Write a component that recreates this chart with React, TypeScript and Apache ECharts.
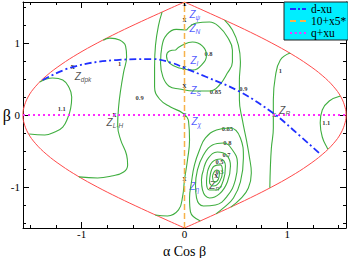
import React, { useEffect, useRef } from "react";
import * as echarts from "echarts";

// ---------- axis ----------
const AXIS_MIN = -1.5708;
const AXIS_MAX = 1.5708;
const majorTicks = [-1, 0, 1];
const minorTicks = [-1.5, -1.25, -0.75, -0.5, -0.25, 0.25, 0.5, 0.75, 1.25, 1.5];

// ---------- red boundary ----------
const boundaryBeta = [1.5708, 1.45, 1.3, 1.15, 1.0, 0.85, 0.7, 0.55, 0.4, 0.25, 0.1, 0, -0.1, -0.25, -0.4, -0.55, -0.7, -0.85, -1.0, -1.15, -1.3, -1.45, -1.5708];
const boundaryX = [0, 0.189, 0.42, 0.642, 0.849, 1.037, 1.201, 1.339, 1.447, 1.522, 1.563, 1.571, 1.563, 1.522, 1.447, 1.339, 1.201, 1.037, 0.849, 0.642, 0.42, 0.189, 0];

// ---------- legend lines ----------
const curveDxu = [[-1.379, 0.486], [-1.087, 0.667], [-0.66, 0.764], [-0.311, 0.778], [-0.117, 0.722], [0, 0.653], [0.214, 0.528], [0.544, 0.319], [0.874, 0.014], [1.058, -0.208], [1.32, -0.542]];
const line10x5 = [[0, -1.5708], [0, 1.5708]];
const lineQxu = [[-1.5708, 0], [1.5708, 0]];

// ---------- green contours ----------
const contour11Left = [[-1.408, 0.458], [-1.282, 0.514], [-1.184, 0.486], [-1.126, 0.389], [-1.097, 0.25], [-1.107, 0.097], [-1.136, -0.042], [-1.184, -0.167], [-1.262, -0.236], [-1.359, -0.278], [-1.51, -0.264]];
const contour1Left = [[-0.79, 1.04], [-0.728, 1.069], [-0.631, 1.042], [-0.573, 0.958], [-0.563, 0.806], [-0.592, 0.597], [-0.621, 0.347], [-0.641, 0.111], [-0.65, -0.139], [-0.621, -0.347], [-0.563, -0.556], [-0.553, -0.694], [-0.592, -0.792], [-0.709, -0.847], [-0.845, -0.875], [-1.027, -0.86]];
const contour1Right = [[1.028, 0.861], [0.932, 0.764], [0.883, 0.528], [0.864, 0.208], [0.864, -0.181], [0.845, -0.458], [0.835, -0.736], [0.83, -1.01]];
const contour11Right = [[1.516, 0.264], [1.408, 0.194], [1.34, 0.069], [1.32, -0.111], [1.34, -0.306], [1.388, -0.458], [1.4, -0.47]];
const contour09Right = [[0.39, 1.32], [0.466, 1.181], [0.524, 0.972], [0.544, 0.736], [0.534, 0.486], [0.534, 0.208], [0.563, -0.069], [0.602, -0.347], [0.631, -0.583], [0.65, -0.806], [0.621, -1.014], [0.544, -1.167], [0.45, -1.28]];
const contour09Left = [[-0.218, 1.431], [-0.252, 1.25], [-0.282, 0.972], [-0.291, 0.667], [-0.291, 0.389], [-0.243, 0.222], [-0.136, 0.111], [-0.019, 0.028], [0.039, -0.083], [0.049, -0.347], [0.029, -0.625], [0, -0.903], [-0.019, -1.139], [-0.058, -1.319], [-0.165, -1.403], [-0.285, -1.39]];
const contour085Top = [[0.019, 1.181], [0.117, 1.278], [0.243, 1.292], [0.34, 1.222], [0.417, 1.083], [0.466, 0.903], [0.466, 0.736], [0.417, 0.583], [0.34, 0.417], [0.243, 0.333], [0.097, 0.333], [-0.049, 0.361], [-0.15, 0.4], [-0.21, 0.53], [-0.233, 0.722], [-0.22, 0.95], [-0.17, 1.12], [-0.08, 1.19], [0.019, 1.181]];
const contour08Top = [[-0.087, 0.903], [-0.019, 0.972], [0.078, 1.014], [0.175, 0.958], [0.214, 0.833], [0.165, 0.694], [0.078, 0.625], [-0.049, 0.653], [-0.146, 0.722], [-0.175, 0.819], [-0.146, 0.889], [-0.087, 0.903]];
const contour085Bottom = [[0.154, -1.472], [0.058, -1.347], [0.049, -1.153], [0.068, -0.931], [0.097, -0.694], [0.146, -0.486], [0.204, -0.319], [0.311, -0.208], [0.447, -0.181], [0.544, -0.319], [0.573, -0.597], [0.544, -0.931], [0.476, -1.153], [0.379, -1.292], [0.306, -1.375]];
const contour08Bottom = [[0.126, -0.764], [0.184, -0.556], [0.272, -0.417], [0.379, -0.389], [0.466, -0.486], [0.515, -0.667], [0.495, -0.903], [0.417, -1.125], [0.301, -1.25], [0.184, -1.264], [0.117, -1.153], [0.107, -0.972], [0.126, -0.764]];
const contour07Bottom = [[0.184, -0.764], [0.233, -0.597], [0.32, -0.514], [0.408, -0.556], [0.447, -0.708], [0.417, -0.931], [0.34, -1.097], [0.243, -1.153], [0.175, -1.042], [0.165, -0.903], [0.184, -0.764]];
const contour05Bottom = [[0.223, -0.792], [0.272, -0.653], [0.35, -0.611], [0.398, -0.708], [0.379, -0.903], [0.311, -1.042], [0.243, -1.042], [0.214, -0.931], [0.223, -0.792]];
const contour03Bottom = [[0.252, -0.819], [0.291, -0.708], [0.35, -0.694], [0.369, -0.792], [0.34, -0.931], [0.282, -0.986], [0.243, -0.931], [0.252, -0.819]];
const contour02Bottom = [[0.272, -0.847], [0.311, -0.764], [0.34, -0.792], [0.33, -0.889], [0.291, -0.931], [0.272, -0.847]];

const contours = [contour11Left, contour1Left, contour1Right, contour11Right, contour09Right, contour09Left, contour085Top, contour08Top, contour085Bottom, contour08Bottom, contour07Bottom, contour05Bottom, contour03Bottom, contour02Bottom];

// ---------- contour labels ----------
const contourLabelText = ["1.1", "1", "0.9", "0.8", "0.85", "0.9", "1", "1.1", "0.85", "0.8", "0.7", "0.5", "0.3"];
const contourLabelX = [-1.194, -0.631, -0.437, 0.233, 0.301, 0.573, 0.932, 1.379, 0.417, 0.417, 0.408, 0.34, 0.34];
const contourLabelY = [0.097, 0.722, 0.25, 0.861, 0.333, 0.375, 0.625, -0.111, -0.194, -0.389, -0.556, -0.65, -0.79];

// ---------- stationary points ----------
const pointSub = ["ψ", "N", "I", "S", "χ", "η", "dpk", "L-H", "R", "n''"];
const pointX = [0, 0, 0, 0, 0, 0, -1.087, -0.68, 0.874, 0.31];
const pointY = [1.54, 1.32, 0.653, 0.39, 0, -0.9, 0.667, 0, 0, -0.86];
const pointBlue = [true, true, true, true, true, true, false, false, false, false];

// layout only: label offsets in px
const pointLabelOffset = [[5, 10], [5, 8], [6, -8], [6, 4], [7, 6], [5, 7], [2, 9], [-8, 7], [5, -5], [-7, 9]];

const RED = "#ff4a4a";
const GREEN = "#3fae3f";
const BLUE = "#1f2fff";
const ORANGE = "#f7b24a";
const MAGENTA = "#ff2cff";
const SERIF = "Liberation Serif";

const ICON_DASHDOT = "path://M0,0h6v2h-6z M8,0h2v2h-2z M12,0h4v2h-4z";
const ICON_DASH = "path://M0,0h6v2h-6z M10,0h6v2h-6z";
const ICON_DOT = "path://M0,0h2v2h-2z M4.7,0h2v2h-2z M9.3,0h2v2h-2z M14,0h2v2h-2z";

function makeXAxis(position: "top" | "bottom", values: number[], len: number, showLine: boolean, labels: boolean) {
  return {
    type: "value",
    min: AXIS_MIN,
    max: AXIS_MAX,
    position,
    axisLine: { show: showLine, onZero: false, lineStyle: { color: "#000", width: 1 } },
    axisTick: { show: true, inside: true, length: len, customValues: values, lineStyle: { color: "#000", width: 1 } },
    axisLabel: labels
      ? { show: true, customValues: values, margin: 0, color: "#000", fontFamily: SERIF, fontSize: 11 }
      : { show: false },
    splitLine: { show: false },
  } as any;
}
function makeYAxis(position: "left" | "right", values: number[], len: number, showLine: boolean, labels: boolean) {
  return {
    type: "value",
    min: AXIS_MIN,
    max: AXIS_MAX,
    position,
    axisLine: { show: showLine, onZero: false, lineStyle: { color: "#000", width: 1 } },
    axisTick: { show: true, inside: true, length: len, customValues: values, lineStyle: { color: "#000", width: 1 } },
    axisLabel: labels
      ? { show: true, customValues: values, margin: 3, color: "#000", fontFamily: SERIF, fontSize: 11 }
      : { show: false },
    splitLine: { show: false },
  } as any;
}

export default function App() {
  const ref = useRef<HTMLDivElement>(null);
  useEffect(() => {
    if (!ref.current) return;
    const chart = echarts.init(ref.current, undefined, { renderer: "svg" });

    const xAxes = [
      { ...makeXAxis("bottom", majorTicks, 6, true, true), name: "α Cos β", nameLocation: "middle", nameGap: 16, nameMoveOverlap: false, nameTextStyle: { fontFamily: SERIF, fontSize: 14, color: "#000" } },
      makeXAxis("bottom", minorTicks, 3, false, false),
      makeXAxis("top", majorTicks, 6, true, false),
      makeXAxis("top", minorTicks, 3, false, false),
    ];
    const yAxes = [
      { ...makeYAxis("left", majorTicks, 6, true, true), name: "β", nameLocation: "middle", nameGap: 12, nameRotate: 0, nameMoveOverlap: false, nameTextStyle: { fontFamily: SERIF, fontSize: 16, color: "#000" } },
      makeYAxis("left", minorTicks, 3, false, false),
      makeYAxis("right", majorTicks, 6, true, false),
      makeYAxis("right", minorTicks, 3, false, false),
    ];

    const series: any[] = [];
    const rightBoundary = boundaryBeta.map((b, i) => [boundaryX[i], b]);
    const leftBoundary = boundaryBeta.map((b, i) => [-boundaryX[i], b]);
    [rightBoundary, leftBoundary].forEach((d) =>
      series.push({ type: "line", data: d, symbol: "none", smooth: 0.4, lineStyle: { color: RED, width: 1 }, silent: true })
    );
    contours.forEach((d) =>
      series.push({ type: "line", data: d, symbol: "none", smooth: 0.45, lineStyle: { color: GREEN, width: 1.1 }, silent: true })
    );
    series.push({ name: "d-xu", type: "line", data: curveDxu, symbol: "none", smooth: 0.4, itemStyle: { color: BLUE }, lineStyle: { color: BLUE, width: 1.8, type: [7, 3, 2, 3] } });
    series.push({ name: "10+x5*", type: "line", data: line10x5, symbol: "none", itemStyle: { color: ORANGE }, lineStyle: { color: ORANGE, width: 1.5, type: [6, 3] } });
    series.push({ name: "q+xu", type: "line", data: lineQxu, symbol: "none", itemStyle: { color: MAGENTA }, lineStyle: { color: MAGENTA, width: 2, type: [2, 3] } });

    // contour labels
    series.push({
      type: "scatter",
      symbolSize: 0.1,
      silent: true,
      data: contourLabelText.map((t, i) => ({ value: [contourLabelX[i], contourLabelY[i]], name: t })),
      label: { show: true, position: "inside", formatter: (p: any) => p.name, fontFamily: SERIF, fontWeight: "bold", fontSize: 6.5, lineHeight: 7, color: "#000" },
    });
    // "x" markers
    series.push({
      type: "scatter",
      symbolSize: 0.1,
      silent: true,
      data: pointX.map((x, i) => [x, pointY[i]]),
      label: { show: true, position: "inside", formatter: "x", fontFamily: SERIF, fontWeight: "bold", fontSize: 8, color: "#000", offset: [0, -1] },
    });
    // Z labels
    series.push({
      type: "scatter",
      symbolSize: 0.1,
      silent: true,
      data: pointX.map((x, i) => {
        const c = pointBlue[i] ? BLUE : "#222";
        return {
          value: [x, pointY[i]],
          name: pointSub[i],
          label: {
            offset: pointLabelOffset[i],
            rich: {
              z: { fontFamily: "Liberation Sans", fontStyle: "italic", fontSize: 10, color: c, lineHeight: 13 },
              s: { fontFamily: "Liberation Sans", fontStyle: "italic", fontSize: 6.5, color: c, lineHeight: 13, verticalAlign: "bottom" },
            },
          },
        };
      }),
      label: { show: true, position: "inside", align: "left", verticalAlign: "middle", formatter: (p: any) => `{z|Z}{s|${p.name}}` },
    });

    chart.setOption({
      animation: false,
      backgroundColor: "#fff",
      grid: { left: 23, right: 2, top: 2, bottom: 30, containLabel: false, outerBoundsMode: "none" },
      xAxis: xAxes,
      yAxis: yAxes,
      legend: {
        data: [
          { name: "d-xu", icon: ICON_DASHDOT },
          { name: "10+x5*", icon: ICON_DASH },
          { name: "q+xu", icon: ICON_DOT },
        ],
        orient: "vertical",
        left: 284,
        top: 2,
        itemWidth: 16,
        itemHeight: 2,
        itemGap: 0,
        padding: [1, 2, 1, 6],
        backgroundColor: "#00eeff",
        borderColor: "#222",
        borderWidth: 1,
        borderRadius: 0,
        selectedMode: false,
        textStyle: { fontFamily: SERIF, fontSize: 11.5, lineHeight: 11, color: "#000" },
      },
      series,
    });
    return () => chart.dispose();
  }, []);
  return <div ref={ref} style={{ position: "fixed", left: 0, top: 0, width: 348, height: 258 }} />;
}
